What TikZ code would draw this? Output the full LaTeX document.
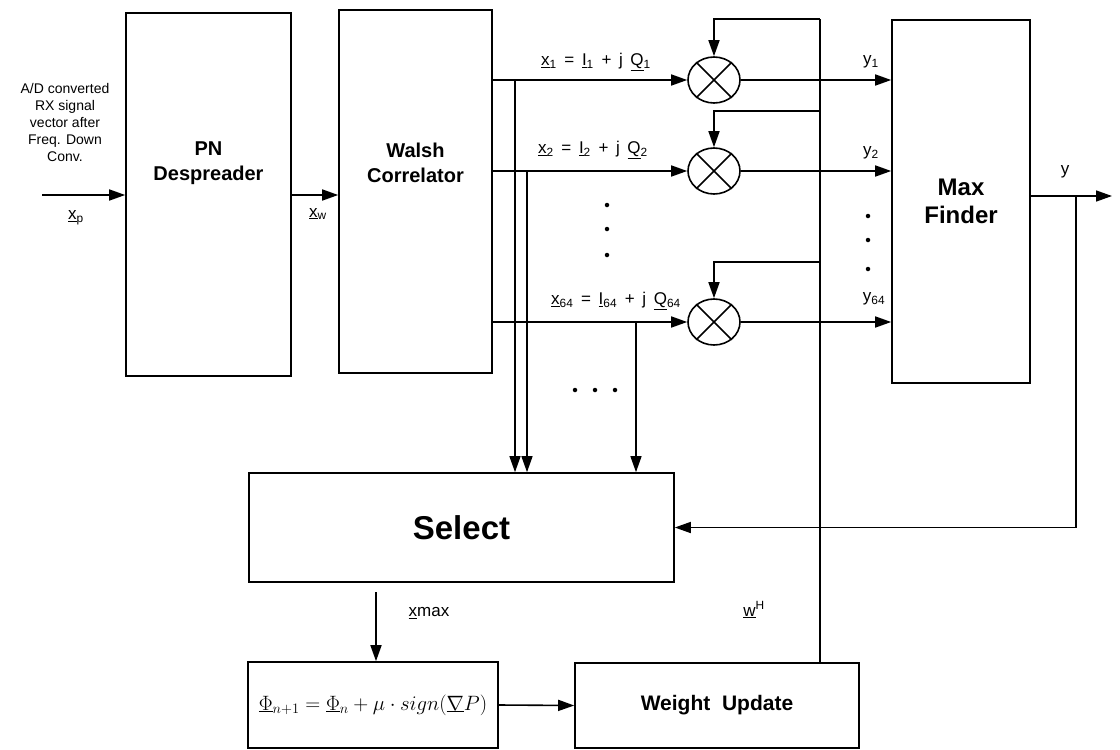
\documentclass[tikz,border=0pt]{standalone}
\usepackage{fontspec}
\setmainfont{Liberation Sans}
\usetikzlibrary{arrows.meta, shapes.geometric}
\tikzset{
  every picture/.style={line width=1.6pt},
  box/.style={draw, rectangle, inner sep=0pt, align=center},
  title/.style={font=\fontsize{20}{25}\selectfont\bfseries, align=center},
  note/.style={font=\fontsize{14}{17}\selectfont, align=center},
  sig/.style={font=\fontsize{17}{20}\selectfont, inner sep=1pt},
  mixer/.style={draw, ellipse, minimum width=52pt, minimum height=46pt, inner sep=0pt},
  arrow/.style={-{Triangle[length=16pt, width=11pt]}},
  dot/.style={circle, fill, inner sep=0pt, minimum size=4.5pt},
}
\newcommand{\eqsp}{\hspace{0.45em}}

\begin{document}
\begin{tikzpicture}[x=1pt, y=-1pt]
  \useasboundingbox (0,0) rectangle (1120,750);
  % blocks
  \node[box, minimum width=165pt, minimum height=363pt] (pn) at (208.5,194.5) {};
  \node[title] (pntxt) at (208.5,163) {PN\\Despreader};
  \node[box, minimum width=153pt, minimum height=363pt] (walsh) at (415.5,191.5) {};
  \node[title] (walshtxt) at (415.5,163) {Walsh\\Correlator};
  \node[box, minimum width=138pt, minimum height=363pt, title, font=\fontsize{24}{28}\selectfont\bfseries] (maxf) at (961,201.5) {Max\\Finder};
  \node[box, minimum width=425pt, minimum height=109pt, font=\fontsize{33}{38}\selectfont\bfseries] (sel) at (461.5,527.5) {Select};
  \node[box, minimum width=250pt, minimum height=86pt, font=\fontsize{21}{24}\selectfont] (phi) at (373,705)
    {$\underline{\Phi}_{n+1} = \underline{\Phi}_n + \mu \cdot sign(\underline{\nabla} P)$};
  \node[box, minimum width=284pt, minimum height=85pt, font=\fontsize{21}{25}\selectfont\bfseries] (wu) at (717,705.5) {Weight\ \ Update};

  % input
  \node[note] (intxt) at (65,122) {A/D converted\\RX signal\\vector after\\Freq. Down\\Conv.};
  \coordinate (xin) at (42,195);
  \draw[arrow] (xin) -- (xin -| pn.west);
  \node[sig] (xp) at (76,218) {\underline{x}\textsubscript{p}};
  \draw[arrow] (pn.east |- xin) -- (walsh.west |- xin);
  \node[sig] (xw) at (318,214) {\underline{x}\textsubscript{w}};

  % mixers
  \node[mixer] (m1) at (714,80) {};
  \node[mixer] (m2) at (714,171) {};
  \node[mixer] (m64) at (714,322) {};
  \foreach \m in {m1,m2,m64}
    \draw (\m.45) -- (\m.225) (\m.135) -- (\m.315);

  \draw[arrow] (walsh.east |- m1) -- (m1);
  \draw[arrow] (walsh.east |- m2) -- (m2);
  \draw[arrow] (walsh.east |- m64) -- (m64);
  \node[sig] (lx1) at (596,62) {\underline{x}\textsubscript{1}\eqsp=\eqsp\underline{I}\textsubscript{1}\eqsp+\eqsp j\eqsp\underline{Q}\textsubscript{1}};
  \node[sig] (lx2) at (593,150) {\underline{x}\textsubscript{2}\eqsp=\eqsp\underline{I}\textsubscript{2}\eqsp+\eqsp j\eqsp\underline{Q}\textsubscript{2}};
  \node[sig] (lx64) at (616,301) {\underline{x}\textsubscript{64}\eqsp=\eqsp\underline{I}\textsubscript{64}\eqsp+\eqsp j\eqsp\underline{Q}\textsubscript{64}};
  \node[dot] (d1) at (607,205) {};
  \node[dot] (d2) at (607,229) {};
  \node[dot] (d3) at (607,255) {};

  % taps to select
  \coordinate (t1) at (515,80);
  \coordinate (t2) at (527,171);
  \coordinate (t64) at (636,322);
  \draw[arrow, line width=1.3pt] (t1) -- (t1 |- sel.north);
  \draw[arrow, line width=1.3pt] (t2) -- (t2 |- sel.north);
  \draw[arrow, line width=1.3pt] (t64) -- (t64 |- sel.north);
  \node[dot] (e1) at (575,390) {};
  \node[dot] (e2) at (595,390) {};
  \node[dot] (e3) at (615,390) {};

  % weights
  \coordinate (w1) at (820,19);
  \coordinate (w2) at (820,111);
  \coordinate (w64) at (820,262);
  \draw (wu.north -| w1) -- (w1);
  \draw[arrow] (w1) -- (w1 -| m1.north) -- (m1.north);
  \draw[arrow] (w2) -- (w2 -| m2.north) -- (m2.north);
  \draw[arrow] (w64) -- (w64 -| m64.north) -- (m64.north);
  \node[sig] (wh) at (754,610) {\underline{w}\textsuperscript{H}};

  % mixer outputs
  \draw[arrow] (m1) -- (maxf.west |- m1);
  \draw[arrow] (m2) -- (maxf.west |- m2);
  \draw[arrow] (m64) -- (maxf.west |- m64);
  \node[sig] (y1) at (871,62) {y\textsubscript{1}};
  \node[sig] (y2) at (871,153) {y\textsubscript{2}};
  \node[sig] (y64) at (874,299) {y\textsubscript{64}};
  \node[dot] (f1) at (868,216) {};
  \node[dot] (f2) at (868,240) {};
  \node[dot] (f3) at (868,269) {};

  % output and feedback
  \coordinate (yout) at (1112,196);
  \coordinate (ytap) at (1076,196);
  \draw[arrow] (maxf.east |- yout) -- (yout);
  \node[sig] (ylab) at (1065,172) {y};
  \draw[arrow] (ytap) |- (sel.east);

  % update path
  \coordinate (xm) at (376,592);
  \draw[arrow] (xm) -- (xm |- phi.north);
  \node[sig] (xmax) at (429,613) {\underline{x}max};
  \draw[arrow] (phi.east) -- (wu.west);
\end{tikzpicture}
\end{document}
